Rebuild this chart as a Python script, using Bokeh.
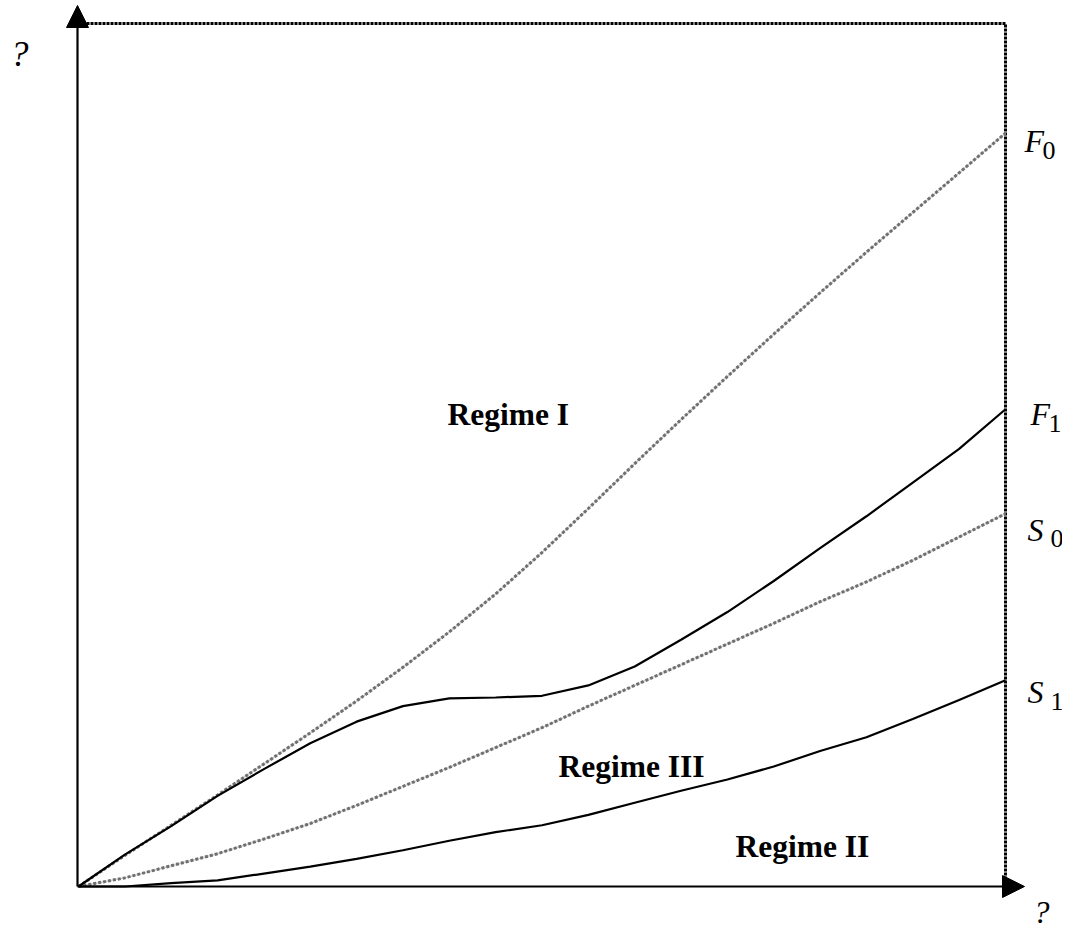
from bokeh.plotting import figure
from bokeh.models import Range1d, Arrow, NormalHead, Label
from bokeh.embed import file_html
from bokeh.resources import INLINE

# ---- data (abstract units) ----
X = [0, 0.5, 1, 1.5, 2, 2.5, 3, 3.5, 4, 4.5, 5, 5.5, 6, 6.5, 7, 7.5, 8, 8.5, 9, 9.5, 10]
F0 = [0, 0.36, 0.71, 1.06, 1.42, 1.78, 2.15, 2.54, 2.95, 3.39, 3.87, 4.38, 4.90, 5.41, 5.91, 6.40, 6.88, 7.35, 7.81, 8.27, 8.73]
F1 = [0, 0.37, 0.70, 1.05, 1.36, 1.66, 1.91, 2.09, 2.18, 2.19, 2.21, 2.33, 2.55, 2.86, 3.18, 3.54, 3.92, 4.29, 4.68, 5.07, 5.53]
S0 = [0, 0.10, 0.24, 0.38, 0.55, 0.73, 0.94, 1.16, 1.38, 1.61, 1.84, 2.09, 2.33, 2.57, 2.81, 3.05, 3.30, 3.53, 3.78, 4.05, 4.32]
S1 = [0, 0, 0.04, 0.07, 0.15, 0.23, 0.32, 0.42, 0.53, 0.63, 0.71, 0.83, 0.97, 1.11, 1.24, 1.39, 1.57, 1.73, 1.94, 2.16, 2.39]
X_MAX = 10
Y_MAX = 10
REGIMES = ["Regime I", "Regime III", "Regime II"]
AXIS_LABELS = ["?", "?"]

# ---- layout geometry (picture pixels) ----
W, H = 1062, 931
PAGE = 0
OX, OY = 78, 886      # origin
XE, YT = 1005, 23     # right / top of the dotted frame
sx = (XE - OX) / X_MAX
sy = (OY - YT) / Y_MAX


def px2x(px):
    return (px - OX) / sx


def py2y(py):
    return (OY - py) / sy


p = figure(width=W, height=H, output_backend="svg", toolbar_location=None,
           x_range=Range1d(px2x(PAGE), px2x(PAGE + W)),
           y_range=Range1d(py2y(PAGE + H), py2y(PAGE)),
           x_axis_type=None, y_axis_type=None, title=None,
           min_border=0, outline_line_color=None)
p.min_border_left = p.min_border_right = p.min_border_top = p.min_border_bottom = 0
p.background_fill_color = "white"
p.border_fill_color = "white"

# dotted frame
p.line([0, X_MAX, X_MAX], [Y_MAX, Y_MAX, 0], line_color="black", line_width=3, line_dash="3 1")

# gray dotted curves
for ys in (F0, S0):
    p.line(X, ys, line_color="#cccccc", line_width=1.5)
    p.line(X, ys, line_color="#6f6f6f", line_width=3, line_dash="3 2")

# solid curves
for ys in (F1, S1):
    p.line(X, ys, line_color="black", line_width=2.2)

# axes with arrow heads
head = dict(size=22, fill_color="black", line_color="black", line_width=1)
p.add_layout(Arrow(end=NormalHead(**head), x_start=px2x(77), y_start=0,
                   x_end=px2x(77), y_end=py2y(5), line_width=2.2, line_color="black"))
p.add_layout(Arrow(end=NormalHead(**head), x_start=px2x(77), y_start=0,
                   x_end=px2x(1024), y_end=0, line_width=2.2, line_color="black"))

FONT = "Liberation Serif"


def lab(text, px, py, size, style="normal", baseline="alphabetic"):
    p.add_layout(Label(x=px2x(px), y=py2y(py), text=text, text_font=FONT,
                       text_font_size=f"{size}px", text_font_style=style,
                       text_baseline=baseline, text_align="left",
                       text_color="black"))


# axis labels
lab(AXIS_LABELS[0], 10, 53, 36, "italic")
lab(AXIS_LABELS[1], 1033, 929, 32, "italic", baseline="bottom")

# curve labels: (letter, subscript, series, x px of letter, baseline offset, subscript x offset)
curve_labels = [
    ("F", "0", F0, 1024, 8, 18),
    ("F", "1", F1, 1030, 5, 18),
    ("S", "0", S0, 1027, 16, 23),
    ("S", "1", S1, 1027, 12, 23),
]
for letter, sub, ys, lx, dy, dx in curve_labels:
    end_py = OY - ys[-1] * sy
    lab(letter, lx, end_py + dy, 32, "italic")
    lab(sub, lx + dx, end_py + dy + 9, 26, "normal")

# regime labels
lab(REGIMES[0], 447, 414, 31.5, "bold")
lab(REGIMES[1], 558, 766, 31.5, "bold")
lab(REGIMES[2], 735, 846, 31.5, "bold")

open("out.html", "w").write(file_html(p, INLINE))
